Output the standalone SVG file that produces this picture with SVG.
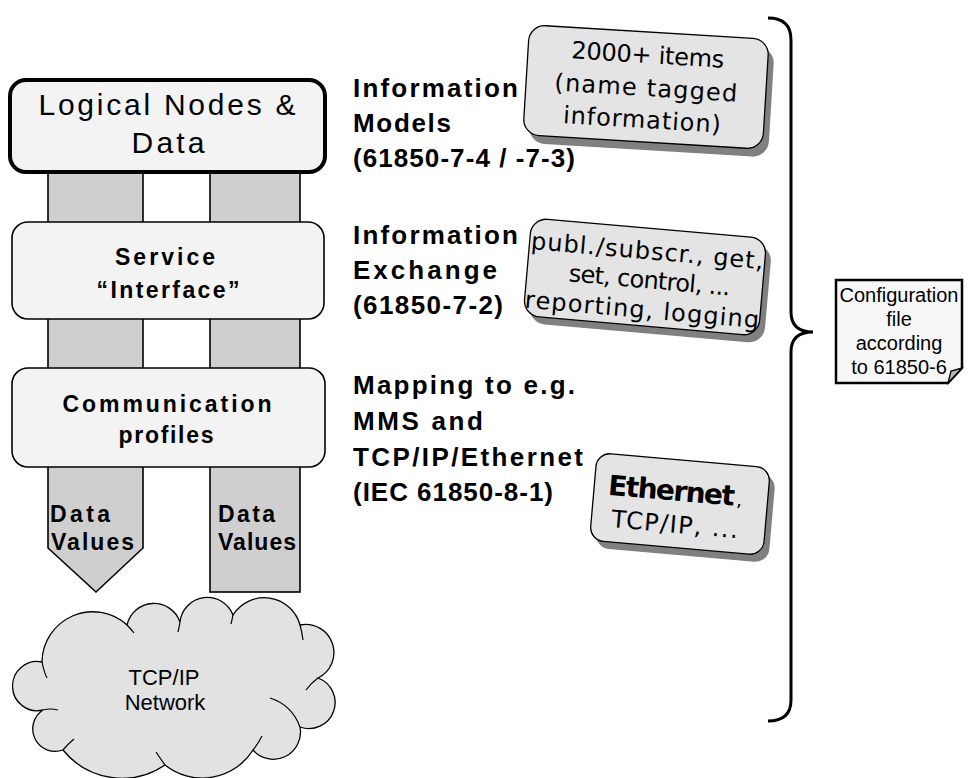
<svg xmlns="http://www.w3.org/2000/svg" width="975" height="778" viewBox="0 0 975 778">
<style>
.box{fill:#f3f3f3;stroke:#000;stroke-width:1.6}
.col{fill:#cfcfcf;stroke:#000;stroke-width:1.6}
.lt{font-family:"Liberation Sans",Arial,sans-serif;fill:#000}
.b{font-weight:bold}
.gt{font-family:"DejaVu Sans","Liberation Sans",sans-serif;fill:#000;font-size:24px}
.gbox{fill:#e4e4e4;stroke:#000;stroke-width:1.3}
.gsh{fill:#808080}
.mid{text-anchor:middle}
</style>
<rect width="975" height="778" fill="#fff"/>
<g id="connectors">
  <polygon class="col" points="48,170 143,170 143,548 96,592 48,548"/>
  <rect class="col" x="210" y="170" width="90" height="422"/>
  <text class="lt b" font-size="23" x="50" y="522" textLength="60">Data</text>
  <text class="lt b" font-size="23" x="51" y="550" textLength="83">Values</text>
  <text class="lt b" font-size="23" x="218" y="522" textLength="57">Data</text>
  <text class="lt b" font-size="23" x="218" y="550" textLength="78">Values</text>
  <path d="M768,18 Q791,18 791,40 V312 Q791,332 813,332 Q791,332 791,352 V700 Q791,721 768,721" fill="none" stroke="#000" stroke-width="3"/>
</g>
<g id="logical-nodes">
  <rect x="10" y="80" width="315" height="92" rx="16" style="fill:#f3f3f3;stroke:#000;stroke-width:4"/>
  <text class="lt mid" font-size="30" x="167" y="115" textLength="257">Logical Nodes &amp;</text>
  <text class="lt mid" font-size="30" x="168" y="153" textLength="73">Data</text>
</g>
<g id="service-interface">
  <rect class="box" x="12" y="222" width="312" height="97" rx="16"/>
  <text class="lt b mid" font-size="23" x="165" y="265" textLength="100">Service</text>
  <text class="lt b mid" font-size="23" x="168" y="298" textLength="143">“Interface”</text>
</g>
<g id="communication-profiles">
  <rect class="box" x="12" y="368" width="313" height="99" rx="16"/>
  <text class="lt b mid" font-size="23" x="167" y="412" textLength="209">Communication</text>
  <text class="lt b mid" font-size="23" x="166" y="443" textLength="95">profiles</text>
</g>
<g id="cloud">
  <path d="M42,662 A50.8,50.8 0 0 1 127,625 A27.6,27.6 0 0 1 180,622 A27.5,27.5 0 0 1 233,615 A37,37 0 0 1 300,625 A28.2,28.2 0 0 1 318,678 A26.1,26.1 0 0 1 300,727 A27.1,27.1 0 0 1 253,750 A59.8,59.8 0 0 1 165,765 A76,76 0 0 1 63,750 A22.5,22.5 0 0 1 43,710 A24.6,24.6 0 1 1 42,662 Z" fill="#e2e2e2" stroke="#000" stroke-width="1.3"/>
  <g fill="none" stroke="#000" stroke-width="1.2">
    <path d="M42,662 Q44,672 47,678"/>
    <path d="M127,625 Q131,629 134,633"/>
    <path d="M180,622 Q179,628 178,632"/>
    <path d="M233,615 Q232,620 231,624"/>
    <path d="M300,625 Q302,632 303,640"/>
    <path d="M318,678 Q311,683 306,690"/>
    <path d="M270,698 Q292,705 300,727"/>
    <path d="M253,750 Q258,744 262,736"/>
    <path d="M165,765 Q160,758 156,752"/>
    <path d="M63,750 Q68,744 74,739"/>
    <path d="M43,710 Q50,708 58,710"/>
  </g>
  <text class="lt mid" font-size="22" x="164" y="685">TCP/IP</text>
  <text class="lt mid" font-size="22" x="165" y="710">Network</text>
</g>
<g id="information-models">
  <text class="lt b" font-size="26" x="353" y="97" textLength="165">Information</text>
  <text class="lt b" font-size="26" x="353" y="132" textLength="98">Models</text>
  <text class="lt b" font-size="26" x="353" y="167" textLength="222">(61850-7-4 / -7-3)</text>
</g>
<g id="information-exchange">
  <text class="lt b" font-size="26" x="353" y="244" textLength="165">Information</text>
  <text class="lt b" font-size="26" x="353" y="279" textLength="144">Exchange</text>
  <text class="lt b" font-size="26" x="353" y="314" textLength="150">(61850-7-2)</text>
</g>
<g id="mapping">
  <text class="lt b" font-size="26" x="353" y="394" textLength="222">Mapping to e.g.</text>
  <text class="lt b" font-size="26" x="353" y="430" textLength="130">MMS and</text>
  <text class="lt b" font-size="26" x="353" y="466" textLength="230">TCP/IP/Ethernet</text>
  <text class="lt b" font-size="26" x="353" y="501" textLength="200">(IEC 61850-8-1)</text>
</g>
<g id="items-box" transform="translate(646,87) rotate(3.5)">
  <rect class="gsh" x="-114" y="-47" width="240" height="110" rx="16"/>
  <rect class="gbox" x="-120" y="-55" width="240" height="110" rx="16"/>
  <text class="gt mid" x="0" y="-24" textLength="153">2000+ items</text>
  <text class="gt mid" x="0" y="9" textLength="183">(name tagged</text>
  <text class="gt mid" x="-2" y="41" textLength="158">information)</text>
</g>
<g id="services-box" transform="translate(645,277) rotate(5)">
  <rect class="gsh" x="-112" y="-42" width="236" height="98" rx="16"/>
  <rect class="gbox" x="-118" y="-49" width="236" height="98" rx="16"/>
  <text class="gt mid" x="0" y="-18" textLength="233">publ./subscr., get,</text>
  <text class="gt mid" x="5" y="11" textLength="162">set, control, ...</text>
  <text class="gt mid" x="0" y="41" textLength="235">reporting, logging</text>
</g>
<g id="ethernet-box" transform="translate(680,504) rotate(5)">
  <rect class="gsh" x="-81" y="-37" width="174" height="88" rx="14"/>
  <rect class="gbox" x="-87" y="-44" width="174" height="88" rx="14"/>
  <text class="gt" x="-73" y="-3" textLength="127" style="font-size:28px;font-weight:bold">Ethernet</text>
  <text class="gt" x="56" y="-3" style="font-size:18px">,</text>
  <text class="gt" x="-67" y="29" textLength="127">TCP/IP, ...</text>
</g>
<g id="configuration-file">
  <path d="M836,280 H962 V368 L948,383 H836 Z" fill="#f7f7f7" stroke="#000" stroke-width="2.5"/>
  <path d="M948,383 L951,371 L962,368 Z" fill="#b8b8b8" stroke="#000" stroke-width="1.3"/>
  <text class="lt mid" font-size="20" x="899" y="302">Configuration</text>
  <text class="lt mid" font-size="20" x="899" y="326">file</text>
  <text class="lt mid" font-size="20" x="899" y="350">according</text>
  <text class="lt mid" font-size="20" x="899" y="374">to 61850-6</text>
</g>
</svg>
